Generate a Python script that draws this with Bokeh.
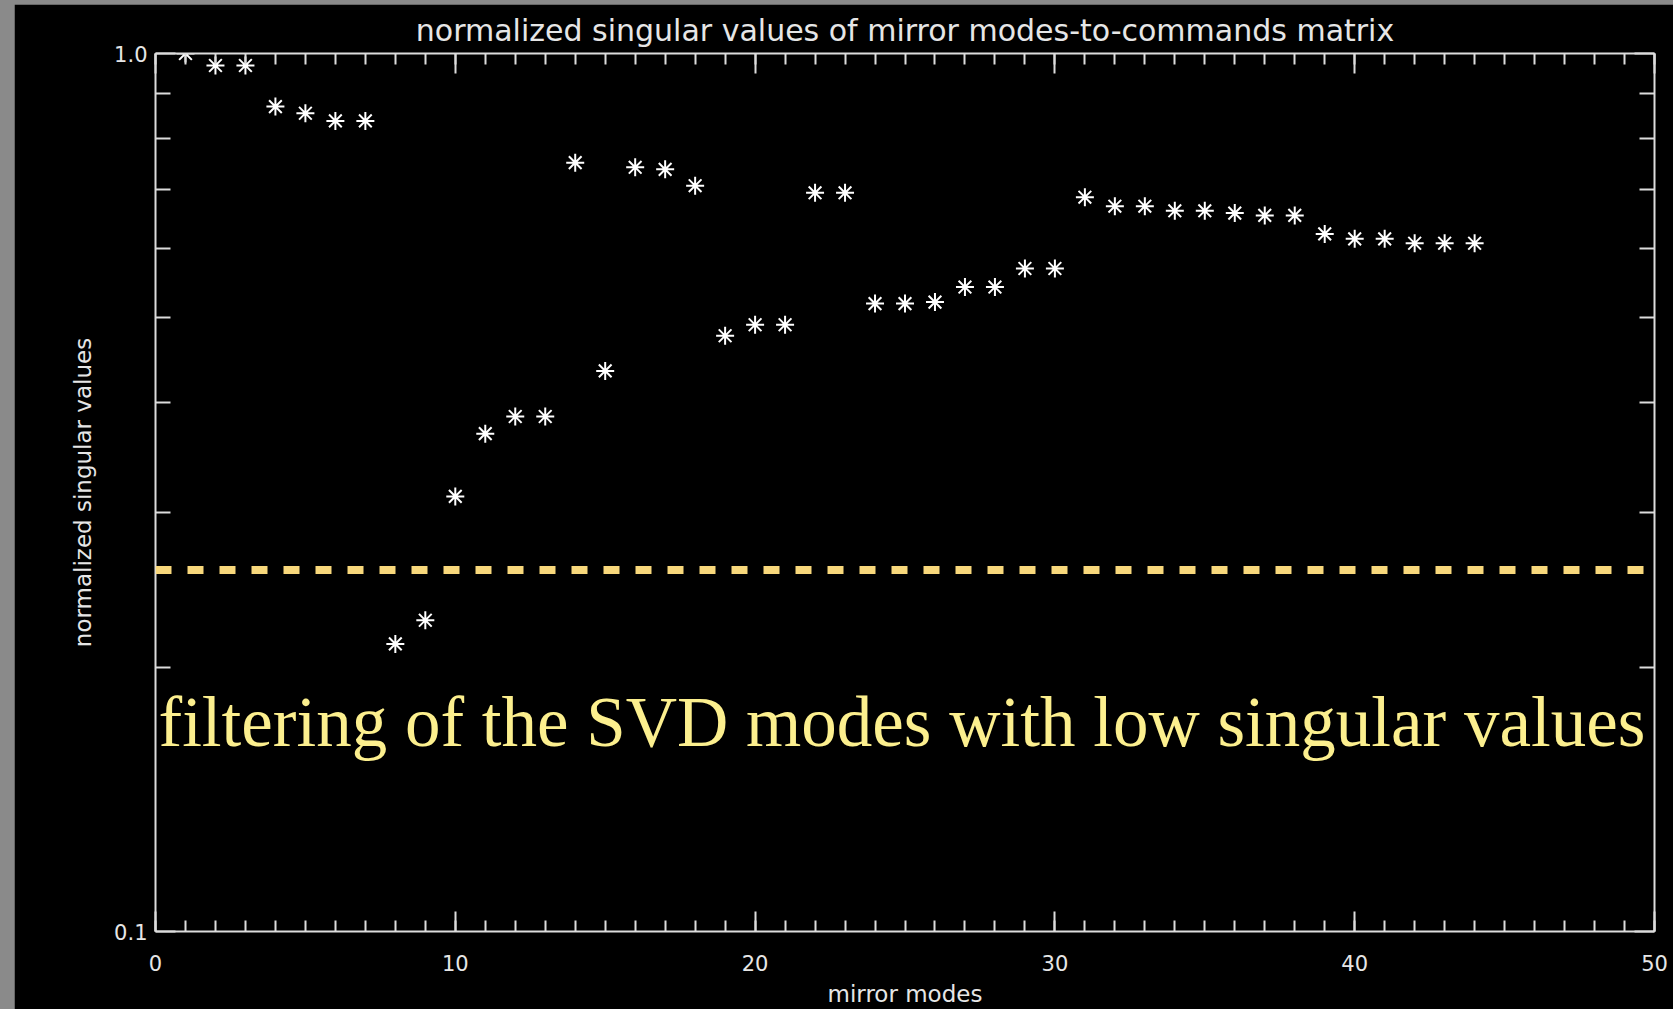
from bokeh.plotting import figure
from bokeh.models import Range1d, FixedTicker, LinearAxis, LogAxis, Label, Span, CustomJSTickFormatter
from bokeh.embed import file_html
from bokeh.resources import INLINE

# ---- data ----
modes = list(range(1, 45))
singular_values = [1.0, 0.969, 0.969, 0.870, 0.855, 0.838, 0.838, 0.2126, 0.2262, 0.313,
                   0.369, 0.386, 0.386, 0.751, 0.435, 0.742, 0.738, 0.707, 0.477, 0.491,
                   0.491, 0.694, 0.694, 0.519, 0.519, 0.521, 0.542, 0.542, 0.569, 0.569,
                   0.686, 0.670, 0.670, 0.662, 0.662, 0.658, 0.654, 0.654, 0.623, 0.615,
                   0.615, 0.608, 0.608, 0.608]
threshold = 0.258
x_major_ticks = [0, 10, 20, 30, 40, 50]
x_minor_ticks = list(range(0, 51))
y_major_ticks = [0.1, 1.0]
y_minor_ticks = [0.2, 0.3, 0.4, 0.5, 0.6, 0.7, 0.8, 0.9]

title_text = "normalized singular values of mirror modes-to-commands matrix"
x_label = "mirror modes"
y_label = "normalized singular values"
note_text = "filtering of the SVD modes with low singular values"

AX = "#DCDCDC"
TXT = "#E6E6E6"

p = figure(width=1659, height=1005, output_backend="svg", toolbar_location=None,
           y_axis_type="log", x_range=Range1d(0, 50), y_range=Range1d(0.1, 1.0),
           background_fill_color="black", border_fill_color="black",
           min_border_left=141, min_border_right=19, min_border_top=42, min_border_bottom=72)
p.outline_line_color = None
p.grid.visible = False

p.title.text = title_text
p.title.align = "center"
p.title.text_color = TXT
p.title.text_font = "DejaVu Sans"
p.title.text_font_size = "30px"
p.title.text_font_style = "normal"
p.title.text_line_height = 1.0
p.title.standoff = 12


def style_axis(ax, major_in, minor_in):
    ax.axis_line_color = AX
    ax.axis_line_width = 2
    ax.major_tick_line_color = AX
    ax.major_tick_line_width = 2
    ax.minor_tick_line_color = AX
    ax.minor_tick_line_width = 2
    ax.major_tick_out = 0
    ax.minor_tick_out = 0
    ax.major_tick_in = major_in
    ax.minor_tick_in = minor_in
    ax.major_label_text_color = TXT
    ax.major_label_text_font = "DejaVu Sans"
    ax.major_label_text_font_size = "21px"
    ax.axis_label_text_color = TXT
    ax.axis_label_text_font = "DejaVu Sans"
    ax.axis_label_text_font_size = "23px"
    ax.axis_label_text_font_style = "normal"


xt = FixedTicker(ticks=x_major_ticks, minor_ticks=x_minor_ticks)
yt = FixedTicker(ticks=y_major_ticks, minor_ticks=y_minor_ticks)
blank = CustomJSTickFormatter(code="return ''")

xa = p.xaxis[0]
xa.ticker = xt
xa.axis_label = x_label
xa.major_label_standoff = 23
xa.axis_label_standoff = 7
style_axis(xa, 20, 11)

ya = p.yaxis[0]
ya.ticker = yt
ya.formatter = CustomJSTickFormatter(code="return tick.toFixed(1)")
ya.axis_label = y_label
ya.major_label_standoff = 8
ya.axis_label_standoff = 15
style_axis(ya, 20, 15)

top = LinearAxis(ticker=xt, formatter=blank)
style_axis(top, 20, 11)
top.major_label_text_font_size = "1px"
top.major_label_standoff = 0
p.add_layout(top, "above")

right = LogAxis(ticker=yt, formatter=blank)
style_axis(right, 20, 15)
right.major_label_text_font_size = "1px"
right.major_label_standoff = 0
p.add_layout(right, "right")

p.add_layout(Span(location=threshold, dimension="width", line_color="#F8D77B",
                  line_width=8, line_dash="16 16"))

p.scatter(modes, singular_values, marker="asterisk", size=18,
          line_color="white", line_width=2)

p.add_layout(Label(x=0.1, y=0.173, text=note_text, text_font="Liberation Serif",
                   text_font_size="71px", text_color="#FCEF8E", text_baseline="alphabetic"))

template = """{% block postamble %}<style>html,body{background:#8a8a8a;overflow:hidden;padding:0;}body{margin:4px 0 0 14px;}</style>{% endblock %}"""

open("out.html", "w").write(file_html(p, INLINE, template=template))
